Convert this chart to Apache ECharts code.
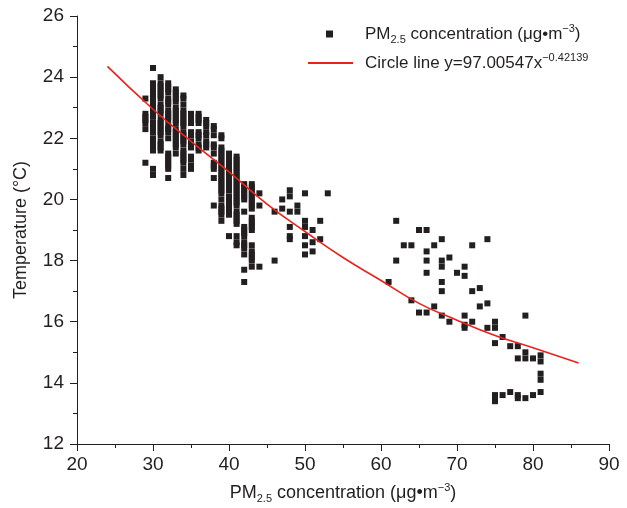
<!DOCTYPE html>
<html>
<head>
<meta charset="utf-8">
<title>PM2.5 vs temperature</title>
<script src="https://cdn.jsdelivr.net/npm/echarts@6.0.0/dist/echarts.min.js"></script>
<style>
  html, body { margin: 0; padding: 0; background: #fff; }
  #chart { width: 627px; height: 508px; }
</style>
</head>
<body>
<div id="chart"></div>
<script>
// PM2.5 readings fall on whole numbers, so the points are kept per PM2.5 column
const pmLevels = [29, 30, 31, 32, 33, 34, 35, 36, 37, 38, 39, 40, 41, 42, 43, 44, 46, 47, 48, 49, 50, 51, 52, 53,
  61, 62, 63, 64, 65, 66, 67, 68, 69, 70, 71, 72, 73, 74, 75, 76, 77, 78, 79, 80, 81];
const tempReadings = [
  [23.3, 22.8, 22.7, 22.6, 22.5, 22.3, 21.2],
  [24.3, 23.8, 23.7, 23.6, 23.5, 23.4, 23.3, 23.2, 23.1, 23.0, 22.9, 22.8, 22.7, 22.5, 22.4, 22.3, 22.2, 22.0, 21.9, 21.8, 21.7, 21.6, 21.0, 20.8],
  [24.0, 23.8, 23.7, 23.6, 23.5, 23.4, 23.3, 23.1, 23.0, 22.9, 22.8, 22.6, 22.5, 22.4, 22.3, 22.2, 22.1, 21.9, 21.8, 21.7, 21.6],
  [23.8, 23.7, 23.6, 23.5, 23.3, 23.2, 23.1, 22.9, 22.8, 22.7, 22.6, 22.4, 22.3, 22.2, 22.0, 21.5, 21.4, 21.3, 21.2, 21.1, 21.0, 20.7],
  [23.6, 23.5, 23.4, 23.3, 23.2, 23.0, 22.9, 22.8, 22.7, 22.6, 22.5, 22.3, 22.2, 22.1, 22.0, 21.9, 21.8, 21.7, 21.5],
  [23.4, 23.3, 23.1, 22.9, 22.8, 22.7, 22.6, 22.5, 22.4, 22.2, 22.1, 22.0, 21.9, 21.8, 21.6, 21.5, 21.4, 21.3, 21.2, 21.0, 20.8],
  [22.8, 22.7, 22.6, 22.5, 22.2, 22.1, 21.9, 21.8, 21.7, 21.4, 21.3, 21.1, 21.0],
  [22.8, 22.7, 22.6, 22.5, 22.2, 22.1, 22.0, 21.8, 21.7, 21.6],
  [22.6, 22.5, 22.4, 22.2, 22.1, 21.9, 21.8, 21.7],
  [22.4, 22.3, 22.1, 21.8, 21.7, 21.5, 21.2, 21.1, 21.0, 20.7, 19.8],
  [22.1, 22.0, 21.7, 21.6, 21.5, 21.4, 21.3, 21.2, 21.1, 21.0, 20.9, 20.8, 20.7, 20.6, 20.5, 20.4, 20.3, 20.2, 20.0, 19.8, 19.7, 19.6, 19.5, 19.3],
  [21.5, 21.4, 21.3, 21.2, 21.1, 21.0, 20.9, 20.8, 20.7, 20.6, 20.5, 20.4, 20.3, 20.1, 20.0, 19.9, 19.8, 19.7, 19.6, 19.5, 18.8],
  [21.4, 21.3, 21.2, 21.1, 21.0, 20.9, 20.8, 20.7, 20.6, 20.5, 20.4, 20.3, 20.2, 20.1, 20.0, 19.9, 19.8, 19.6, 19.5, 19.4, 19.3, 19.2, 18.8, 18.6, 18.5],
  [20.5, 20.4, 20.3, 20.2, 20.1, 20.0, 19.6, 19.1, 19.0, 18.9, 18.8, 18.6, 18.5, 18.4, 18.2, 17.7, 17.3],
  [20.5, 20.4, 20.3, 20.2, 20.1, 20.0, 19.9, 19.8, 19.7, 19.4, 19.3, 19.2, 19.1, 19.0, 18.5, 18.3, 18.2, 18.1, 18.0, 17.8],
  [20.2, 19.8, 17.8],
  [19.6, 18.0],
  [20.0, 19.7],
  [20.3, 20.1, 19.6, 19.1, 18.8, 18.7],
  [19.8, 19.6],
  [20.2, 19.3, 19.1, 18.8, 18.5, 18.2],
  [19.0, 18.6, 18.3],
  [19.3, 18.7],
  [20.2],
  [17.3],
  [19.3, 18.0],
  [18.5],
  [18.5, 16.7],
  [19.0, 16.3],
  [19.0, 18.3, 18.0, 17.6, 16.3],
  [18.5, 16.5],
  [18.7, 18.0, 17.8, 17.3, 17.0, 16.2],
  [18.1, 16.0],
  [17.6],
  [17.8, 17.5, 16.2, 15.9, 15.8],
  [18.5, 17.0, 16.0],
  [17.1, 16.5],
  [18.7, 16.6, 15.8],
  [16.0, 15.8, 15.3, 13.6, 13.5, 13.4],
  [15.5, 13.6],
  [15.2, 13.7],
  [15.2, 14.8, 13.6, 13.5],
  [16.2, 15.0, 14.8, 13.5],
  [14.8, 13.6],
  [14.9, 14.7, 14.3, 14.1, 13.7]
];

// red fitted curve
const fitPm = [24, 30, 35, 40, 45, 50, 55, 60, 65, 70, 75, 80, 86];
const fitTemp = [24.35, 22.95, 21.9, 20.9, 19.85, 18.95, 18.1, 17.35, 16.6, 16.05, 15.55, 15.15, 14.65];

const ink = '#231f20';
const red = '#e8231c';
const font = 'Liberation Sans, Arial, sans-serif';
const scatterName = 'PM2.5 concentration';
const fitName = 'Circle line';

const pmTitle = '{t|PM}{sub|2.5}{t| concentration (μg•m}{sup|−3}{t|)}';
const fitTitle = '{t|Circle line y=97.00547x}{sup|−0.42139}';

function richText (size) {
  return {
    t: {fontSize: size, lineHeight: 22, color: ink, fontFamily: font},
    sub: {fontSize: 11, verticalAlign: 'bottom', color: ink, fontFamily: font},
    sup: {fontSize: 11, verticalAlign: 'top', color: ink, fontFamily: font}
  };
}

const points = [];
pmLevels.forEach((pm, i) => {
  tempReadings[i].forEach(t => points.push([pm, t]));
});

const option = {
  animation: false,
  grid: {left: 77, right: 18, top: 16, bottom: 64, outerBoundsMode: 'none'},
  legend: [
    {
      data: [{name: scatterName, icon: 'rect'}],
      left: 326,
      top: 23,
      padding: 0,
      itemWidth: 7,
      itemHeight: 7,
      selectedMode: false,
      formatter: () => pmTitle,
      textStyle: {padding: [0, 0, 0, 27], rich: richText(17)}
    },
    {
      data: [{name: fitName, icon: 'rect', itemStyle: {color: red}}],
      left: 308,
      top: 52,
      padding: 0,
      itemWidth: 45,
      itemHeight: 2,
      selectedMode: false,
      formatter: () => fitTitle,
      textStyle: {padding: [0, 0, 0, 7], rich: richText(17)}
    }
  ],
  xAxis: {
    type: 'value',
    min: 20,
    max: 90,
    interval: 10,
    name: pmTitle,
    nameLocation: 'middle',
    nameGap: 38,
    nameTextStyle: {rich: richText(18)},
    axisLine: {show: true, onZero: false, lineStyle: {color: ink, width: 1}},
    axisTick: {show: true, length: 7, lineStyle: {color: ink}},
    minorTick: {show: true, splitNumber: 2, length: 4, lineStyle: {color: ink}},
    splitLine: {show: false},
    minorSplitLine: {show: false},
    axisLabel: {margin: 11, fontSize: 19, color: ink, fontFamily: font}
  },
  yAxis: {
    type: 'value',
    min: 12,
    max: 26,
    interval: 2,
    name: 'Temperature (°C)',
    nameLocation: 'middle',
    nameGap: 47,
    nameTextStyle: {fontSize: 18, color: ink, fontFamily: font},
    axisLine: {show: true, onZero: false, lineStyle: {color: ink, width: 1}},
    axisTick: {show: true, length: 7, lineStyle: {color: ink}},
    minorTick: {show: true, splitNumber: 2, length: 4, lineStyle: {color: ink}},
    splitLine: {show: false},
    minorSplitLine: {show: false},
    axisLabel: {margin: 13, fontSize: 19, color: ink, fontFamily: font}
  },
  series: [
    {
      name: scatterName,
      type: 'scatter',
      symbol: 'rect',
      symbolSize: 6,
      itemStyle: {color: ink, opacity: 1},
      emphasis: {disabled: true},
      data: points
    },
    {
      name: fitName,
      type: 'line',
      smooth: true,
      symbol: 'none',
      lineStyle: {color: red, width: 1.6},
      itemStyle: {color: red},
      emphasis: {disabled: true},
      data: fitPm.map((pm, i) => [pm, fitTemp[i]])
    }
  ]
};

const myChart = echarts.init(document.getElementById('chart'));
myChart.setOption(option);
</script>
</body>
</html>
